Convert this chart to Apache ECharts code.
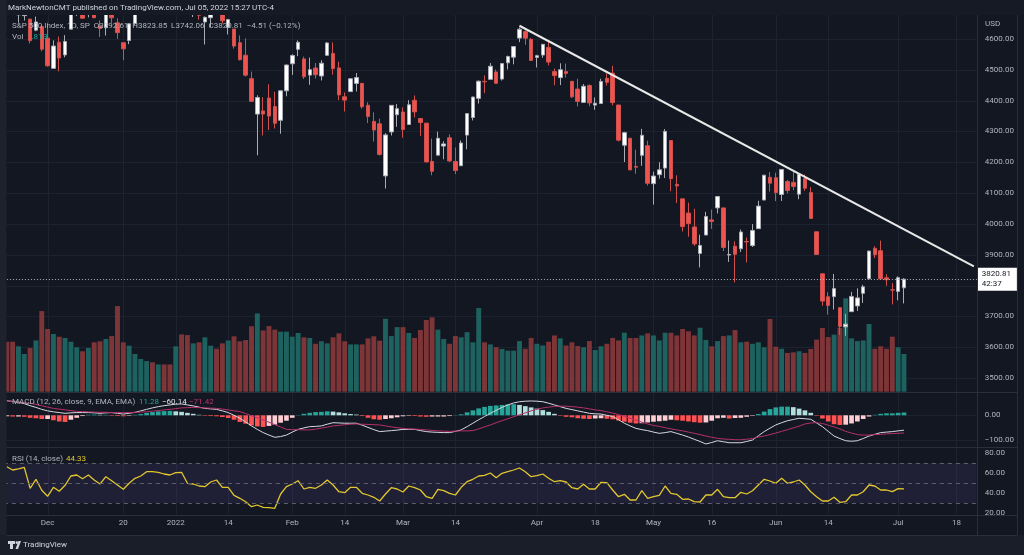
<!DOCTYPE html>
<html><head><meta charset="utf-8">
<script src="https://cdn.jsdelivr.net/npm/echarts@6/dist/echarts.min.js"></script>
<style>html,body{margin:0;padding:0;background:#131722;}#c{width:1024px;height:555px;}</style>
</head><body><div id="c"></div>
<script>
// ---------- categories (trading days) ----------
const holidays = ['2021-11-25','2021-12-24','2022-01-17','2022-02-21','2022-04-15','2022-05-30','2022-06-20','2022-07-04'];
function tradingDays(start, n){const out=[];const d=new Date(start+'T00:00:00Z');while(out.length<n){const wd=d.getUTCDay();const s=d.toISOString().slice(0,10);if(wd!==0&&wd!==6&&holidays.indexOf(s)<0)out.push(s);d.setUTCDate(d.getUTCDate()+1);}return out;}
const dates = tradingDays('2021-11-19', 167);
const tickDates = ['2021-12-01','2021-12-20','2022-01-03','2022-01-14','2022-02-01','2022-02-14','2022-03-01','2022-03-14','2022-04-01','2022-04-18','2022-05-02','2022-05-16','2022-06-01','2022-06-14','2022-07-01','2022-07-18'];
const tickLabels = ['Dec','20','2022','14','Feb','14','Mar','14','Apr','18','May','16','Jun','14','Jul','18'];
const priceTicks = [3500,3600,3700,3800,3900,4000,4100,4200,4300,4400,4500,4600];
const macdTicks = [0,-100];
const rsiTicks = [20,40,60,80];

// ---------- price data ----------
const open = [4708.4,
4712.0,4678.5,4675.8,4664.6,4628.8,4640.2,
4602.8,4504.7,4589.5,4548.4,4632.0,4690.9,4691.0,4687.6,
4710.3,4642.0,4636.5,4719.1,4652.5,
4587.9,4595.0,4650.4,4704.0,
4734.0,4795.5,4788.6,4794.2,4775.2,
4778.1,4804.5,4788.0,4693.4,4697.7,
4655.3,4669.1,4728.6,4733.6,4638.0,
4632.2,4588.0,4547.4,4471.4,
4356.3,4366.6,4408.4,4380.6,4336.2,
4431.8,
4519.6,4566.4,4535.4,4482.8,
4505.8,4480.0,4547.0,4553.2,4506.3,
4412.6,4429.3,4455.8,4456.1,4385.0,
4332.7,4324.9,4155.8,4298.4,
4354.2,
4363.1,4322.6,4401.3,4342.1,
4327.0,4202.7,4223.1,4252.6,4279.5,
4202.75,4188.8,4288.1,4345.1,4407.3,
4462.4,4469.1,4493.1,4470.0,4522.7,
4541.1,4602.9,4624.2,4599.0,
4540.3,
4548.0,4572.45,4494.2,4474.65,4494.2,
4462.6,4437.6,4394.3,4449.1,
4385.6,4390.6,4472.3,4489.2,4385.8,
4255.3,4278.1,4186.5,4222.6,4253.75,
4130.6,4159.8,4181.2,4270.4,4128.2,
4081.3,4035.2,3990.1,3904.0,3963.9,
4013.0,4052.0,4052.0,3899.0,3927.8,
3919.4,3942.9,3929.6,3984.6,4077.4,
4151.1,
4149.8,4095.4,4137.6,
4134.7,4096.5,4147.1,4101.65,3974.4,
3838.15,3763.5,3764.05,3728.2,3665.9,
3715.3,3733.9,3774.7,3821.75,
3920.8,3913.0,3825.1,3786.0,
3781.0,3792.61];
const high = [4717.8,
4743.8,4699.4,4702.9,4664.6,4672.9,4646.0,
4652.9,4595.5,4608.0,4612.6,4694.0,4705.1,4695.3,4713.6,
4710.3,4660.5,4712.6,4732.0,4666.7,
4587.9,4651.1,4697.7,4740.7,
4791.5,4807.0,4804.1,4808.9,4786.8,
4796.6,4818.6,4797.7,4725.0,4708.0,
4673.0,4714.1,4749.0,4744.1,4665.1,
4632.2,4611.6,4602.1,4494.5,
4417.4,4411.0,4453.2,4428.7,4432.7,
4516.9,
4550.5,4595.3,4542.9,4539.7,
4521.9,4531.3,4590.0,4588.9,4526.3,
4426.2,4472.8,4489.6,4456.1,4394.8,
4362.1,4341.5,4294.7,4385.3,
4388.8,
4378.5,4401.5,4416.8,4342.1,
4327.0,4276.9,4299.4,4268.3,4291.0,
4247.6,4271.1,4357.9,4412.7,4465.4,
4481.75,4522.0,4501.1,4520.6,4546.0,
4575.6,4637.3,4627.8,4603.1,
4548.7,
4583.5,4593.45,4503.9,4521.2,4520.4,
4463.6,4471.0,4453.9,4452.8,
4410.3,4471.0,4488.3,4512.9,4385.8,
4299.0,4278.1,4240.7,4308.45,4269.7,
4169.8,4200.1,4307.7,4270.4,4157.7,
4081.3,4068.8,4049.1,3964.8,4038.9,
4046.5,4090.7,4052.0,3946.0,3943.4,
3981.9,3955.7,3999.3,4075.1,4158.5,
4168.3,
4166.5,4177.5,4142.7,
4168.8,4164.9,4160.1,4119.1,3974.4,
3838.15,3778.2,3837.6,3728.2,3707.7,
3779.65,3790.9,3802.6,3913.65,
3927.7,3945.9,3836.5,3807.5,
3829.8,3823.85];
const low = [4694.2,
4682.2,4652.7,4659.9,4585.4,4625.3,4560.0,
4510.3,4504.7,4495.1,4540.5,4632.0,4674.5,4666.0,4670.2,
4667.6,4606.5,4611.2,4651.9,4600.2,
4531.1,4583.2,4645.5,4704.0,
4734.0,4780.0,4778.1,4775.3,4765.75,
4758.2,4774.3,4699.4,4671.3,4662.7,
4582.2,4638.3,4716.1,4650.3,4614.8,
4568.7,4530.2,4478.0,4395.3,
4222.6,4287.1,4304.8,4309.5,4292.5,
4414.0,
4483.5,4544.3,4470.4,4451.5,
4471.5,4465.4,4547.0,4484.3,4401.4,
4364.8,4429.3,4429.7,4373.8,4327.2,
4267.1,4221.5,4114.65,4286.8,
4315.1,
4279.5,4322.6,4345.6,4285.0,
4199.85,4157.9,4223.1,4209.8,4200.5,
4161.7,4187.9,4242.2,4335.7,4390.6,
4424.3,4469.1,4455.8,4465.2,4501.1,
4517.7,4589.7,4581.3,4530.4,
4507.6,
4539.2,4514.2,4450.0,4450.3,4474.6,
4408.4,4381.3,4392.7,4381.9,
4370.3,4390.6,4448.8,4384.5,4267.6,
4200.8,4175.0,4162.9,4188.6,4124.3,
4062.5,4147.1,4148.9,4106.0,4067.9,
3975.5,3958.2,3928.8,3858.9,3963.9,
3984.0,4033.9,3911.9,3876.6,3810.3,
3909.0,3875.1,3925.0,3984.6,4077.4,
4104.9,
4073.9,4074.4,4098.7,
4109.2,4080.2,4107.2,4017.2,3900.2,
3734.3,3705.7,3722.3,3639.8,3636.9,
3715.3,3717.7,3743.5,3821.75,
3889.7,3820.1,3799.0,3738.7,
3752.1,3742.06];
const close = [4698.0,
4682.9,4690.7,4701.5,4594.6,4655.3,4567.0,
4513.0,4577.1,4538.4,4591.7,4686.75,4701.2,4667.45,4712.0,
4669.0,4634.1,4709.9,4668.7,4620.6,
4568.0,4649.2,4696.6,4725.8,
4791.2,4786.4,4793.1,4778.7,4766.2,
4796.6,4793.5,4700.6,4696.1,4677.0,
4670.3,4713.1,4726.4,4659.0,4662.9,
4577.1,4532.8,4482.7,4397.9,
4410.1,4356.5,4349.9,4326.5,4431.9,
4515.6,
4546.5,4589.4,4477.4,4500.5,
4483.9,4521.5,4587.2,4504.1,4418.6,
4401.7,4471.1,4475.0,4380.3,4348.9,
4304.8,4225.5,4288.7,4384.7,
4373.9,
4306.3,4386.5,4363.5,4328.9,
4201.1,4170.7,4277.9,4259.5,4204.3,
4173.1,4262.5,4357.9,4411.7,4463.1,
4461.2,4511.6,4456.2,4520.2,4543.1,
4575.5,4631.6,4602.5,4530.4,
4545.9,
4582.6,4525.1,4481.2,4500.2,4488.3,
4412.5,4397.5,4446.6,4392.6,
4391.7,4462.2,4459.5,4393.7,4271.8,
4296.1,4175.2,4184.0,4287.5,4131.9,
4155.4,4175.5,4300.2,4146.9,4123.3,
3991.2,4001.1,3935.2,3930.1,4023.9,
4008.0,4088.9,3923.7,3900.8,3901.4,
3973.8,3941.5,3978.7,4057.8,4158.2,
4132.2,
4101.2,4176.8,4108.5,
4121.4,4160.7,4115.8,4017.8,3900.9,
3749.6,3735.5,3790.0,3666.8,3674.8,
3764.8,3759.9,3795.7,3911.7,
3900.1,3821.6,3818.8,3785.4,
3825.3,3820.81];
// volume, billions
const volume = [2.40,2.40,2.18,1.81,2.10,2.46,3.87,3.01,2.77,2.64,
2.58,2.40,2.13,1.94,2.10,2.37,2.42,2.53,2.67,4.11,
2.37,2.21,1.81,1.57,1.47,1.41,1.31,1.31,1.31,2.18,
2.75,2.72,2.32,2.37,2.61,2.21,2.06,2.32,2.46,2.66,
2.42,2.48,3.14,3.76,2.94,3.15,2.98,2.88,2.88,2.64,
2.82,2.61,2.58,2.30,2.42,2.32,2.61,2.80,2.42,2.27,
2.27,2.27,2.56,2.66,2.45,3.50,2.67,3.10,3.10,2.82,
2.58,2.96,3.44,3.57,2.98,2.53,2.30,2.67,2.61,2.86,
2.37,4.02,2.37,2.27,2.14,2.05,1.97,1.97,2.43,2.06,
2.58,2.30,2.22,2.40,2.70,2.56,2.22,2.37,2.19,2.13,
2.43,2.00,2.18,2.30,2.58,2.46,2.83,2.58,2.58,2.70,
2.80,2.70,2.46,2.83,2.83,2.70,3.01,2.90,2.70,3.07,
2.48,2.18,2.43,2.67,2.70,2.96,2.37,2.40,2.30,2.37,
2.13,3.49,2.16,2.06,1.86,1.89,1.94,1.86,2.05,2.50,
3.06,2.62,2.74,3.06,4.48,2.56,2.43,2.46,3.25,2.06,
2.18,2.06,2.64,2.13,1.81];
// MACD (12,26,9)
const macdLine = [59,56,53,47,39,32,24,18,14,11,
8,10,11,11,11,10,8,10,11,8,
5,8,12,18,24,30,35,39,42,45,
46,42,38,33,28,26,24,18,11,0,
-12,-27,-43,-57,-70,-80,-89,-86,-80,-68,
-57,-51,-46,-45,-43,-36,-30,-31,-32,-32,
-32,-40,-49,-58,-66,-64,-62,-60,-57,-57,
-57,-62,-66,-68,-69,-70,-70,-65,-59,-46,
-32,-18,-5,8,20,32,42,50,55,57,
58,57,55,49,42,35,28,23,18,13,
8,6,5,0,-5,-18,-32,-43,-53,-58,
-62,-68,-73,-70,-66,-73,-80,-88,-97,-106,
-116,-110,-103,-107,-111,-111,-111,-106,-100,-83,
-66,-52,-39,-30,-22,-17,-12,-14,-16,-31,
-46,-65,-84,-94,-103,-105,-103,-94,-84,-77,
-70,-68,-66,-63,-60.14];
const signalLine = [58,56,54,51,49,44,39,33,28,25,
22,19,16,15,14,13,12,12,11,11,
11,11,12,13,14,17,19,22,24,27,
30,31,32,31,30,29,28,25,22,18,
15,7,-2,-10,-19,-28,-38,-47,-57,-58,
-58,-59,-59,-56,-52,-48,-43,-41,-38,-36,
-35,-36,-37,-38,-39,-43,-47,-50,-53,-55,
-56,-57,-59,-61,-63,-64,-65,-64,-63,-63,
-62,-55,-47,-39,-30,-22,-14,-6,2,10,
18,24,30,33,36,37,37,35,33,30,
26,22,19,14,9,3,-4,-12,-20,-28,
-35,-41,-45,-50,-55,-59,-63,-68,-73,-78,
-84,-89,-93,-96,-97,-99,-99,-97,-94,-88,
-84,-78,-72,-65,-58,-51,-44,-35,-31,-30,
-33,-40,-47,-55,-65,-72,-78,-80,-80,-78,
-77,-75,-74,-73,-71.42];
const histogram = [-4,-5,-5,-6,-10,-12,-15,-15,-20,-25,
-27,-18,-10,-3,2,3,2,2,-2,-3,
-4,-2,2,5,10,13,16,17,18,16,
14,10,6,2,-2,-3,-4,-7,-11,-18,
-27,-34,-41,-45,-47,-43,-38,-30,-22,-10,
1,6,10,13,14,16,15,12,8,5,
3,-3,-10,-16,-18,-15,-12,-8,-4,-2,
-3,-5,-6,-5,-5,-5,-3,1,4,12,
20,28,34,38,40,42,44,45,42,37,
32,27,21,14,6,-2,-6,-8,-12,-14,
-15,-13,-12,-14,-16,-21,-26,-30,-33,-32,
-29,-26,-24,-22,-18,-20,-22,-25,-28,-30,
-29,-22,-12,-10,-13,-11,-10,-6,-2,5,
15,25,32,35,35,33,27,20,10,-2,
-13,-25,-36,-39,-38,-33,-25,-15,-5,2,
6,8,8,10,11.28];
// RSI (14)
const rsi = [66.6,63.3,64.5,66,45,54,43,37,46,42,
48,57.3,58.3,54.6,58.3,53.3,49.3,56.6,52.6,48.3,
44,50,55,57.3,61.6,61.6,61,59.3,58.3,60.6,
61,50,49.3,47.3,46.6,51.3,53.3,46,46,38,
35,31.6,26.6,28.3,26,25.6,25,39.3,46.6,49.3,
52.6,44.3,46,45,48.3,53.3,48.3,41.6,40.6,46,
46,40,38.3,36,32.3,39.3,45.6,44.3,41.3,47.3,
45.6,43.3,36.6,35,44,42.6,40,38.3,46,51.6,
54,57.3,58,60.3,55.6,60,61.6,63.3,65.3,61.6,
56.6,57.6,59.3,55,51.6,52.6,51.3,45.6,44.3,49,
44.3,44.3,51,50.6,43.3,36.6,39,33.3,33.3,42.6,
35,36.6,38,47.3,40,39,34,34.3,31.6,31.3,
38.3,38.3,44,36.6,35.6,35.6,41,39.3,42.6,48.3,
54,52.3,50,55,50,51.3,53.3,48.3,41.6,36.6,
32.3,32.3,36,31,31.6,38.3,38.3,41.6,48.3,47.3,
43.3,43.3,41.6,44.6,44.33];
const lastPrice = 3820.81;

// ---------- build ----------
const BG='#131722', GRID='#1d2230', TXT='#b2b5be', SEP='#2a2e39';
const FONT='Roboto, "Noto Sans", sans-serif';
const candleData = open.map((o,i)=>[o, close[i], low[i], high[i]]);
const volData = volume.map((v,i)=>({value:v, itemStyle:{color: close[i]>=open[i] ? '#1e625f' : '#7e3538'}}));
const histData = histogram.map((v,i)=>{
  const p = i>0 ? histogram[i-1] : v;
  let c;
  if (v>=0) c = v>=p ? '#26a69a' : '#b2dfdb'; else c = v<p ? '#ff5252' : '#ffcdd2';
  return {value:v, itemStyle:{color:c}};
});
const L=3.9, W=972.9;
const grids=[
  {left:L, width:W, top:15, height:377},
  {left:L, width:W, top:291.7, height:100},
  {left:L, width:W, top:392, height:55},
  {left:L, width:W, top:447, height:68}
];
function xAx(gi, showLabel){
  return {type:'category', gridIndex:gi, data:dates, boundaryGap:true,
    axisLine:{show:false}, axisTick:{show:false}, splitLine:{show:false},
    axisLabel: showLabel ? {show:true, color:TXT, fontSize:8, fontFamily:FONT, margin:4,
      interval:(idx,val)=>tickDates.indexOf(val)>=0,
      formatter:(val)=>tickLabels[tickDates.indexOf(val)]} : {show:false}};
}
const fmt = v => (v<0?'\u2212':'') + Math.abs(v).toFixed(2);
function yAx(gi, min, max, ticks){
  return {type:'value', gridIndex:gi, position:'right', min:min, max:max, scale:true,
    axisLine:{show:false}, axisTick:{show:false}, splitLine:{show:false},
    axisLabel: ticks ? {show:true, customValues:ticks, color:TXT, fontSize:8, fontFamily:FONT, margin:8, formatter:fmt} : {show:false}};
}
function vGrid(gi){
  return {type:'custom', xAxisIndex:gi, yAxisIndex:gi, silent:true, z:0, clip:false,
    data: tickDates.map(d=>[d,0]), encode:{x:0,y:1},
    renderItem:(params,api)=>{const cs=params.coordSys;const x=Math.round(api.coord([api.value(0),0])[0])+0.5;
      return {type:'line', shape:{x1:x,y1:cs.y,x2:x,y2:cs.y+cs.height}, style:{stroke:GRID,lineWidth:1}};}};
}
function hGrid(gi, vals){
  return {type:'custom', xAxisIndex:gi, yAxisIndex:gi, silent:true, z:0, clip:false,
    data: vals.map(v=>[dates[0],v]), encode:{x:0,y:1},
    renderItem:(params,api)=>{const cs=params.coordSys;const y=Math.round(api.coord([0,api.value(1)])[1])+0.5;
      return {type:'line', shape:{x1:cs.x,y1:y,x2:cs.x+cs.width,y2:y}, style:{stroke:GRID,lineWidth:1}};}};
}
function txt(x,y,s,fill,extra){return Object.assign({type:'text', x:x, y:y, z:101, silent:true,
  style:{text:s, fill:fill, font:'8px '+FONT, textVerticalAlign:'middle'}}, extra||{});}
function hline(y,x1,x2){return {type:'line', z:102, silent:true, shape:{x1:x1,y1:y,x2:x2,y2:y}, style:{stroke:SEP,lineWidth:1}};}
function vline(x,y1,y2){return {type:'line', z:102, silent:true, shape:{x1:x,y1:y1,x2:x,y2:y2}, style:{stroke:SEP,lineWidth:1}};}

const option = {
  backgroundColor: BG,
  animation:false,
  grid: grids,
  xAxis: [xAx(0,false), xAx(1,false), xAx(2,false), xAx(3,true)],
  yAxis: [yAx(0,3454.56,4677.88,priceTicks), yAx(1,0,4.8,null), yAx(2,-128.3,94.3,macdTicks), yAx(3,18.3,86.3,rsiTicks)],
  series: [
    vGrid(0), hGrid(0, priceTicks), vGrid(2), hGrid(2, macdTicks), vGrid(3),
    {type:'bar', xAxisIndex:1, yAxisIndex:1, data:volData, barWidth:'84%', z:1, silent:true},
    {type:'candlestick', xAxisIndex:0, yAxisIndex:0, data:candleData, barWidth:4, z:3, silent:true,
      itemStyle:{color:'#ffffff', color0:'#ef5350', borderColor:'#a9acb5', borderColor0:'#d0504d', borderWidth:1},
      markLine:{silent:true, symbol:['none','none'], animation:false,
        data:[
          [{coord:[dates[88],4643], lineStyle:{color:'#e8e8e8', width:2, type:'solid'}, label:{show:false}}, {coord:[dates[166],3862.4]}],
          {yAxis:lastPrice, lineStyle:{color:'#b2b5be', width:1, type:[1,2]},
            label:{show:true, position:'end', distance:1, formatter:'3820.81\n42:37', backgroundColor:'#ffffff', color:'#131722',
              fontSize:8, lineHeight:10, fontFamily:FONT, padding:[2,6,1,4]}}
        ]}},
    {type:'bar', xAxisIndex:2, yAxisIndex:2, data:histData, barWidth:'80%', z:2, silent:true},
    {type:'line', xAxisIndex:2, yAxisIndex:2, data:macdLine, symbol:'none', z:3, silent:true, lineStyle:{color:'#d6d8de', width:1}},
    {type:'line', xAxisIndex:2, yAxisIndex:2, data:signalLine, symbol:'none', z:3, silent:true, lineStyle:{color:'#b5306a', width:1}},
    {type:'line', xAxisIndex:3, yAxisIndex:3, data:rsi, symbol:'none', z:4, silent:true, lineStyle:{color:'#e2c72e', width:1.3},
      markArea:{silent:true, itemStyle:{color:'rgba(126,87,194,0.12)'}, data:[[{yAxis:70},{yAxis:30}]]},
      markLine:{silent:true, symbol:['none','none'], label:{show:false}, lineStyle:{color:'#5d606b', width:1, type:[4,4]},
        data:[{yAxis:70},{yAxis:50},{yAxis:30}]}}
  ],
  graphic: [
    {type:'rect', z:100, silent:true, shape:{x:0,y:0,width:1024,height:15}, style:{fill:'#161a25'}},
    {type:'rect', z:100, silent:true, shape:{x:0,y:0,width:6.5,height:555}, style:{fill:'#1e222d'}},
    {type:'rect', z:100, silent:true, shape:{x:0,y:535,width:1024,height:20}, style:{fill:'#1a1e29'}},
    txt(8,8,'MarkNewtonCMT published on TradingView.com, Jul 05, 2022 15:27 UTC-4','#d1d4dc'),
    txt(12,26,'S&P 500 Index, 1D, SP  O3792.61  H3823.85  L3742.06  C3820.81  \u22124.51 (\u22120.12%)',TXT),
    txt(12,37,'Vol',TXT), txt(27,37,'1.81B','#26a69a'),
    txt(985,24,'USD',TXT),
    txt(12,402,'MACD (12, 26, close, 9, EMA, EMA)',TXT), txt(139,402,'11.28','#26a69a'),
    txt(162,402,'\u221260.14','#e0e3eb'), txt(189,402,'\u221271.42','#c2306a'),
    txt(12,459,'RSI (14, close)',TXT), txt(66,459,'44.33','#e2c72e'),
    {type:'polygon', z:101, silent:true, shape:{points:[[8,541],[15,541],[15,544],[13,544],[13,549],[10,549],[10,544],[8,544]]}, style:{fill:'#d1d4dc'}},
    {type:'circle', z:101, silent:true, shape:{cx:16.8,cy:542.6,r:1.3}, style:{fill:'#d1d4dc'}},
    {type:'polygon', z:101, silent:true, shape:{points:[[15.5,549],[18.5,541],[21,541],[18,549]]}, style:{fill:'#d1d4dc'}},
    txt(23,545,'TradingView','#d1d4dc'),
    hline(392.5,6.5,1017), hline(447.5,6.5,1017), hline(515.5,6.5,1017), hline(535.5,6.5,1017),
    vline(977.5,15,535), vline(1017.5,15,535)
  ]
};
const chart = echarts.init(document.getElementById('c'), null, {renderer:'canvas'});
chart.setOption(option);
</script></body></html>
